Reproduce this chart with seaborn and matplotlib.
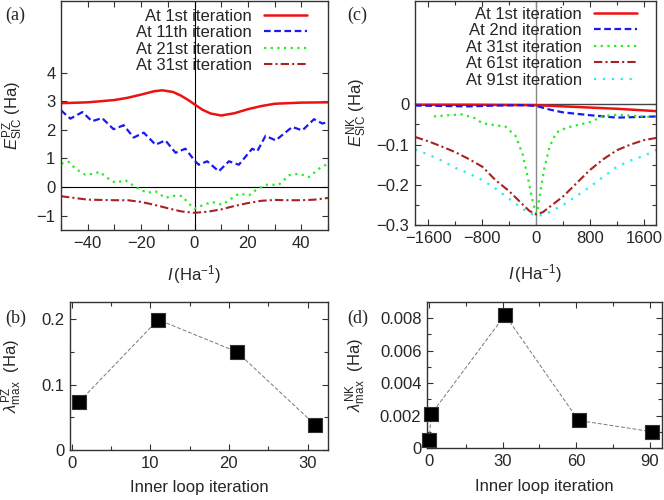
import matplotlib
matplotlib.use("Agg")
import matplotlib.pyplot as plt
import matplotlib.ticker as mticker
import seaborn as sns

# ---- panel (a): PZ energy vs I ----
a_x_it1 = [-50, -40, -30, -25, -20, -15, -12, -8, -5, -2, 0, 3, 6, 10, 15, 20, 25, 30, 40, 50]
a_y_it1 = [2.93, 2.96, 3.04, 3.12, 3.23, 3.35, 3.38, 3.32, 3.19, 3.02, 2.89, 2.70, 2.57, 2.50, 2.58, 2.72, 2.83, 2.91, 2.95, 2.96]

a_x_it11 = [-50, -46.5, -42, -38.4, -34.6, -30.3, -26.5, -22.8, -19, -14.6, -10.9, -7.1, -3.4, 0,
            1.6, 4.75, 9.1, 12.9, 16.6, 21.6, 23.5, 26.6, 30.4, 36.6, 40.4, 44.75, 47.9, 50]
a_y_it11 = [2.68, 2.39, 2.62, 2.30, 2.41, 2.02, 2.16, 1.73, 1.90, 1.48, 1.63, 1.20, 1.34, 0.93,
            0.78, 0.90, 0.55, 0.90, 0.78, 1.34, 1.25, 1.79, 1.63, 2.10, 1.98, 2.37, 2.22, 2.27]

a_x_it21 = [-49.9, -47.1, -44.6, -40.9, -39, -35.25, -33.4, -29.6, -25.9, -22.1, -17.75, -14.6, -10.9,
            -8.4, -4.6, -2.75, 0, 2.9, 6.6, 10.4, 12.9, 16.6, 20.4, 22.9, 26.6, 31.6, 35.4, 39.1, 42.9, 46.6, 50]
a_y_it21 = [0.82, 0.88, 0.64, 0.43, 0.45, 0.53, 0.36, 0.15, 0.24, 0.0, -0.2, -0.15, -0.38,
            -0.31, -0.31, -0.52, -0.76, -0.64, -0.52, -0.62, -0.46, -0.23, -0.29, -0.11, 0.08, 0.08, 0.41, 0.47, 0.35, 0.64, 0.82]

a_x_it31 = [-50, -40, -30, -25, -20, -15, -10, -5, 0, 5, 10, 15, 20, 25, 30, 35, 40, 45, 50]
a_y_it31 = [-0.32, -0.44, -0.46, -0.46, -0.52, -0.62, -0.74, -0.85, -0.90, -0.86, -0.78, -0.66, -0.56,
            -0.48, -0.45, -0.46, -0.46, -0.44, -0.38]

# ---- panel (c): NK energy vs I ----
c_x_it1 = [-1800, -1000, 0, 400, 1200, 1800]
c_y_it1 = [-0.001, -0.001, -0.002, -0.005, -0.011, -0.017]

c_x_it2 = [-1800, -1400, -1000, -600, -200, 0, 200, 400, 800, 1200, 1600, 1800]
c_y_it2 = [-0.003, -0.004, -0.005, -0.003, -0.002, -0.004, -0.013, -0.020, -0.027, -0.033, -0.031, -0.030]

c_x_it31 = [-1520, -1300, -1100, -900, -800, -600, -450, -300, -200, -120, -60, -20, 0,
            20, 60, 120, 200, 300, 450, 600, 800, 1000, 1200, 1400, 1750]
c_y_it31 = [-0.030, -0.027, -0.025, -0.035, -0.047, -0.052, -0.056, -0.080, -0.125, -0.185, -0.235, -0.262, -0.272,
            -0.262, -0.22, -0.16, -0.105, -0.070, -0.058, -0.052, -0.044, -0.029, -0.026, -0.028, -0.032]

c_x_grid = [-1800, -1600, -1400, -1200, -1000, -800, -600, -400, -200, -100, 0,
            100, 200, 400, 600, 800, 1000, 1200, 1400, 1600, 1800]
c_y_it61 = [-0.081, -0.092, -0.105, -0.119, -0.136, -0.155, -0.189, -0.216, -0.249, -0.265, -0.274,
            -0.268, -0.255, -0.229, -0.196, -0.163, -0.136, -0.114, -0.100, -0.089, -0.083]
c_y_it91 = [-0.112, -0.125, -0.140, -0.158, -0.172, -0.188, -0.210, -0.235, -0.260, -0.270, -0.277,
            -0.275, -0.268, -0.250, -0.228, -0.205, -0.180, -0.155, -0.140, -0.128, -0.112]

# ---- panels (b), (d): max eigenvalue vs inner loop iteration ----
b_iter = [1, 11, 21, 31]
b_lambda = [0.074, 0.199, 0.150, 0.038]
d_iter = [0, 1, 31, 61, 91]
d_lambda = [0.0005, 0.0021, 0.0082, 0.0017, 0.0010]

sns.set_style("ticks")
plt.rcParams["font.family"] = ["Liberation Sans", "DejaVu Sans"]
plt.rcParams["font.size"] = 12
plt.rcParams["mathtext.fontset"] = "custom"
plt.rcParams["mathtext.rm"] = "Liberation Sans"
plt.rcParams["mathtext.it"] = "Liberation Sans:italic"
plt.rcParams["mathtext.bf"] = "Liberation Sans:bold"

fig = plt.figure(figsize=(6.64, 5.0), dpi=100)
ax_a = fig.add_axes([61 / 664, 1 - 230 / 500, 267 / 664, 229 / 500])
ax_c = fig.add_axes([415 / 664, 1 - 225 / 500, 241 / 664, 224 / 500])
ax_b = fig.add_axes([70 / 664, 1 - 450 / 500, 258 / 664, 148 / 500])
ax_d = fig.add_axes([427 / 664, 1 - 448 / 500, 235 / 664, 146 / 500])

RED = "#ee1111"
BLUE = "#1a1aee"
GREEN = "#22ee22"
DRED = "#a82222"
CYAN = "#22eeee"


def style_axes(ax):
    for sp in ax.spines.values():
        sp.set_color("#333333")
        sp.set_linewidth(1.0)
    ax.tick_params(which="both", direction="in", top=True, right=True,
                   labelsize=12, pad=4, color="#333333")
    ax.tick_params(which="major", length=4, width=0.8)
    ax.tick_params(which="minor", length=3, width=0.8)


def add_legend(ax, anchor):
    ax.legend(loc="upper right", bbox_to_anchor=anchor, frameon=False,
              markerfirst=False, fontsize=12, handlelength=2.6,
              handletextpad=0.7, labelspacing=0.09, borderpad=0,
              borderaxespad=0)


# (a)
ax_a.axhline(0, color="black", lw=0.8)
ax_a.axvline(0, color="black", lw=0.8)
sns.lineplot(x=a_x_it1, y=a_y_it1, ax=ax_a, color=RED, lw=1.8, label="At 1st iteration")
sns.lineplot(x=a_x_it11, y=a_y_it11, ax=ax_a, color=BLUE, lw=1.6,
             linestyle=(0, (3, 1.6)), label="At 11th iteration")
sns.lineplot(x=a_x_it21, y=a_y_it21, ax=ax_a, color=GREEN, lw=1.6,
             linestyle=(0, (1, 2)), label="At 21st iteration")
sns.lineplot(x=a_x_it31, y=a_y_it31, ax=ax_a, color=DRED, lw=1.5,
             linestyle=(0, (4, 1.5, 1, 1.5)), label="At 31st iteration")
ax_a.set_xlim(-50, 50)
ax_a.set_ylim(-1.5, 6.5)
ax_a.xaxis.set_major_locator(mticker.MultipleLocator(20))
ax_a.xaxis.set_minor_locator(mticker.MultipleLocator(10))
ax_a.yaxis.set_major_locator(mticker.FixedLocator([-1, 0, 1, 2, 3, 4]))
style_axes(ax_a)
ax_a.tick_params(which="minor", length=4)
ax_a.xaxis.set_major_formatter(mticker.FuncFormatter(lambda v, p: f"{v:.0f}".replace("-", "\u2212")))
ax_a.yaxis.set_major_formatter(mticker.FuncFormatter(lambda v, p: f"{v:.0f}".replace("-", "\u2212")))
ax_a.set_xlabel(r"$I\,$(Ha$^{-1}$)", fontsize=12)
ax_a.set_ylabel(r"$E_{\mathrm{SIC}}^{\mathrm{PZ}}$ (Ha)", fontsize=12)
add_legend(ax_a, (0.921, 0.966))

# (c)
ax_c.axhline(0, color="#444444", lw=1.0)
ax_c.axvline(0, color="#888888", lw=1.0)
sns.lineplot(x=c_x_it1, y=c_y_it1, ax=ax_c, color=RED, lw=1.8, label="At 1st iteration")
sns.lineplot(x=c_x_it2, y=c_y_it2, ax=ax_c, color=BLUE, lw=1.6,
             linestyle=(0, (3, 1.6)), label="At 2nd iteration")
sns.lineplot(x=c_x_it31, y=c_y_it31, ax=ax_c, color=GREEN, lw=1.6,
             linestyle=(0, (1, 2)), label="At 31st iteration")
sns.lineplot(x=c_x_grid, y=c_y_it61, ax=ax_c, color=DRED, lw=1.5,
             linestyle=(0, (4, 1.5, 1, 1.5)), label="At 61st iteration")
sns.lineplot(x=c_x_grid, y=c_y_it91, ax=ax_c, color=CYAN, lw=1.6,
             linestyle=(0, (1, 3)), label="At 91st iteration")
ax_c.set_xlim(-1800, 1780)
ax_c.set_ylim(-0.3, 0.257)
ax_c.xaxis.set_major_locator(mticker.MultipleLocator(800))
ax_c.xaxis.set_minor_locator(mticker.MultipleLocator(400))
ax_c.yaxis.set_major_locator(mticker.FixedLocator([-0.3, -0.2, -0.1, 0]))
ax_c.yaxis.set_minor_locator(mticker.FixedLocator([-0.25, -0.15, -0.05]))
style_axes(ax_c)
ax_c.xaxis.set_major_formatter(mticker.FuncFormatter(lambda v, p: f"{v:.0f}".replace("-", "\u2212")))
ax_c.yaxis.set_major_formatter(mticker.FuncFormatter(
    lambda v, p: "0" if abs(v) < 1e-9 else f"{v:.1f}".replace("-", "\u2212")))
ax_c.set_xlabel(r"$I\,$(Ha$^{-1}$)", fontsize=12)
ax_c.set_ylabel(r"$E_{\mathrm{SIC}}^{\mathrm{NK}}$ (Ha)", fontsize=12)
add_legend(ax_c, (0.921, 0.975))

# (b)
sns.lineplot(x=b_iter, y=b_lambda, ax=ax_b, color="#777777", lw=0.7, linestyle=(0, (4, 2)))
sns.scatterplot(x=b_iter, y=b_lambda, ax=ax_b, marker="s", s=110, color="black",
                edgecolor="#333333", linewidth=0.8, zorder=3)
ax_b.set_xlim(-0.2, 32.6)
ax_b.set_ylim(0, 0.226)
ax_b.xaxis.set_major_locator(mticker.MultipleLocator(10))
ax_b.xaxis.set_minor_locator(mticker.MultipleLocator(5))
ax_b.yaxis.set_major_locator(mticker.FixedLocator([0, 0.1, 0.2]))
ax_b.yaxis.set_minor_locator(mticker.FixedLocator([0.05, 0.15]))
style_axes(ax_b)
ax_b.yaxis.set_major_formatter(mticker.FuncFormatter(lambda v, p: "0" if v == 0 else f"{v:.1f}"))
ax_b.set_xlabel("Inner loop iteration", fontsize=12)
ax_b.set_ylabel(r"$\lambda_{\mathrm{max}}^{\mathrm{PZ}}$  (Ha)", fontsize=12)

# (d)
sns.lineplot(x=d_iter, y=d_lambda, ax=ax_d, color="#777777", lw=0.7, linestyle=(0, (4, 2)))
sns.scatterplot(x=d_iter, y=d_lambda, ax=ax_d, marker="s", s=110, color="black",
                edgecolor="#333333", linewidth=0.8, zorder=3, clip_on=False)
ax_d.set_xlim(-0.8, 95)
ax_d.set_ylim(0, 0.009)
ax_d.xaxis.set_major_locator(mticker.MultipleLocator(30))
ax_d.xaxis.set_minor_locator(mticker.MultipleLocator(15))
ax_d.yaxis.set_major_locator(mticker.FixedLocator([0, 0.002, 0.004, 0.006, 0.008]))
ax_d.yaxis.set_minor_locator(mticker.FixedLocator([0.001, 0.003, 0.005, 0.007]))
style_axes(ax_d)
ax_d.yaxis.set_major_formatter(mticker.FuncFormatter(lambda v, p: "0" if v == 0 else f"{v:.3f}"))
ax_d.set_xlabel("Inner loop iteration", fontsize=12)
ax_d.set_ylabel(r"$\lambda_{\mathrm{max}}^{\mathrm{NK}}$  (Ha)", fontsize=12)

# axis label placement
ax_a.yaxis.set_label_coords(-0.135, 0.5)
ax_c.yaxis.set_label_coords(-0.19, 0.5)
ax_b.yaxis.set_label_coords(-0.18, 0.5)
ax_d.yaxis.set_label_coords(-0.25, 0.5)
ax_a.xaxis.set_label_coords(0.5, -0.145)
ax_c.xaxis.set_label_coords(0.5, -0.165)
ax_b.xaxis.set_label_coords(0.5, -0.2)
ax_d.xaxis.set_label_coords(0.5, -0.21)

# panel letters
serif = ["Liberation Serif", "DejaVu Serif"]
fig.text(5 / 664, 1 - 15 / 500, "(a)", family=serif, fontsize=13, va="center")
fig.text(347 / 664, 1 - 15 / 500, "(c)", family=serif, fontsize=13, va="center")
fig.text(5 / 664, 1 - 318 / 500, "(b)", family=serif, fontsize=13, va="center")
fig.text(347 / 664, 1 - 318 / 500, "(d)", family=serif, fontsize=13, va="center")

fig.savefig("out.png", dpi=100)
